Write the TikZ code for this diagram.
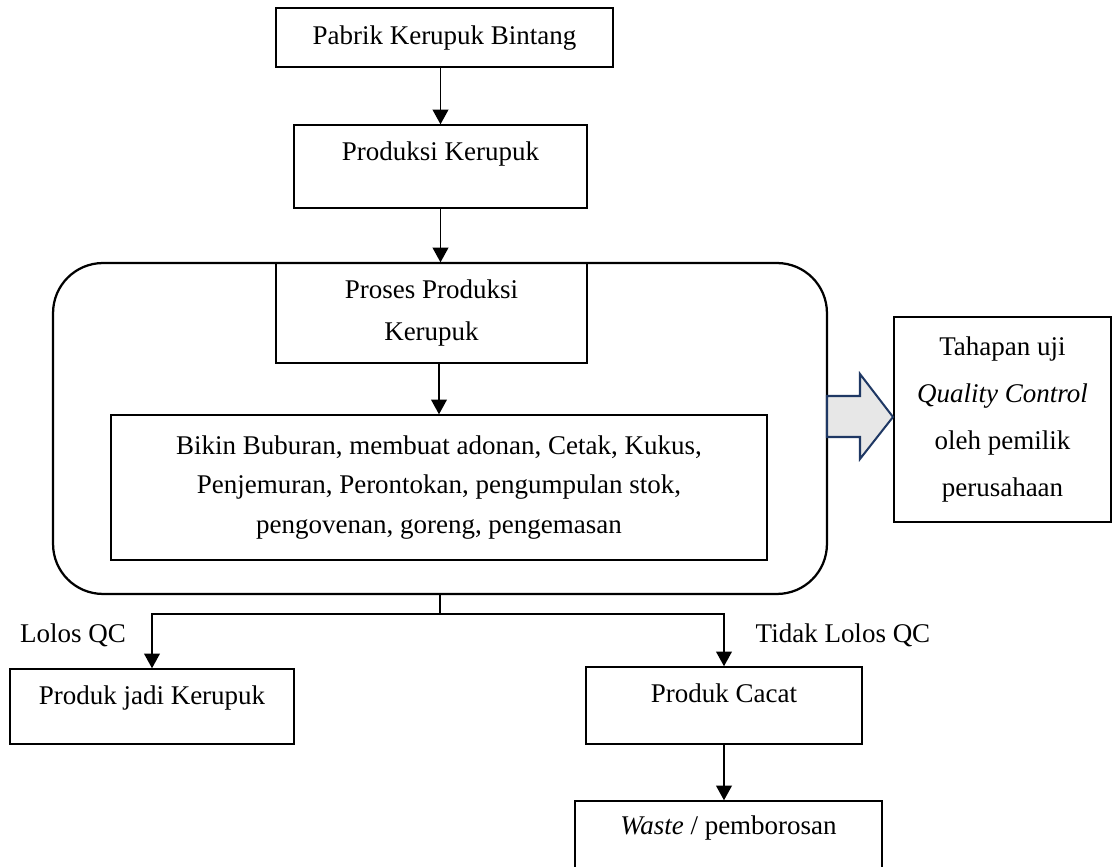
\documentclass[tikz,border=0pt]{standalone}
\usepackage{fontspec}
\setmainfont{Liberation Serif}
\usetikzlibrary{arrows.meta}
\definecolor{navyline}{HTML}{1F3864}
\definecolor{qcfill}{HTML}{E7E7E7}
\begin{document}
\begin{tikzpicture}[x=0.4445pt, y=-0.4445pt, font=\fontsize{12}{14}\selectfont,
    box/.style={draw, line width=0.6pt, inner sep=0pt, align=center},
    arr/.style={-{Triangle[width=7pt,length=6.5pt]}, line width=0.6pt}]
  \useasboundingbox (0,0) rectangle (1117,867);
  % top of the chain
  \node[box, minimum width=149.8pt, text height=16pt, text depth=10.2pt] (pabrik) at (444.5,37.5) {Pabrik Kerupuk Bintang};
  \node[box, minimum width=130.2pt, text height=15.6pt, text depth=21.3pt] (produksi) at (440.5,166.5) {Produksi Kerupuk};
  % production group
  \node[draw, line width=1pt, rounded corners=22.2pt, minimum width=344pt, minimum height=147.1pt] (group) at (440,428.5) {};
  \node[box, minimum width=138.2pt, minimum height=44.45pt, font=\fontsize{12}{18.6}\selectfont] (proses) at (431.5,313) {Proses Produksi\\Kerupuk};
  \node[box, minimum width=291.6pt, minimum height=64.5pt, font=\fontsize{12}{17.4}\selectfont] (steps) at (439,487.5) {Bikin Buburan, membuat adonan, Cetak, Kukus,\\Penjemuran, Perontokan, pengumpulan stok,\\pengovenan, goreng, pengemasan};
  \node[box, minimum width=96.5pt, minimum height=91.1pt, font=\fontsize{12}{20.75}\selectfont] (qc) at (1002.5,419.5) {Tahapan uji\\\textit{Quality Control}\\oleh pemilik\\perusahaan};
  \draw[navyline, fill=qcfill, line width=0.9pt] (827,396) -- (860,396) -- (860,374) -- (893,417) -- (860,459) -- (860,437) -- (827,437) -- cycle;
  % results
  \node (lolos) at (73,635) {Lolos QC};
  \node (tidak) at (843,635) {Tidak Lolos QC};
  \node[box, minimum width=126.2pt, text height=15.6pt, text depth=17.8pt] (jadi) at (152,706.5) {Produk jadi Kerupuk};
  \node[box, minimum width=122.7pt, text height=15.6pt, text depth=18.7pt] (cacat) at (724,705.5) {Produk Cacat};
  \node[box, minimum width=136.5pt, text height=15.1pt, text depth=15.6pt] (waste) at (728.5,835.5) {\textit{Waste} / pemborosan};
  % connectors
  \draw[arr] (produksi.north |- pabrik.south) -- (produksi.north);
  \draw[arr] (produksi.south) -- (produksi.south |- proses.north);
  \draw[arr] (steps.north |- proses.south) -- (steps.north);
  \draw[line width=0.6pt] (group.south) -- ++(0,19) coordinate (split);
  \foreach \dest in {jadi, cacat}
    \draw[arr] (split) -| (\dest.north);
  \draw[arr] (cacat.south) -- (cacat.south |- waste.north);
\end{tikzpicture}
\end{document}
